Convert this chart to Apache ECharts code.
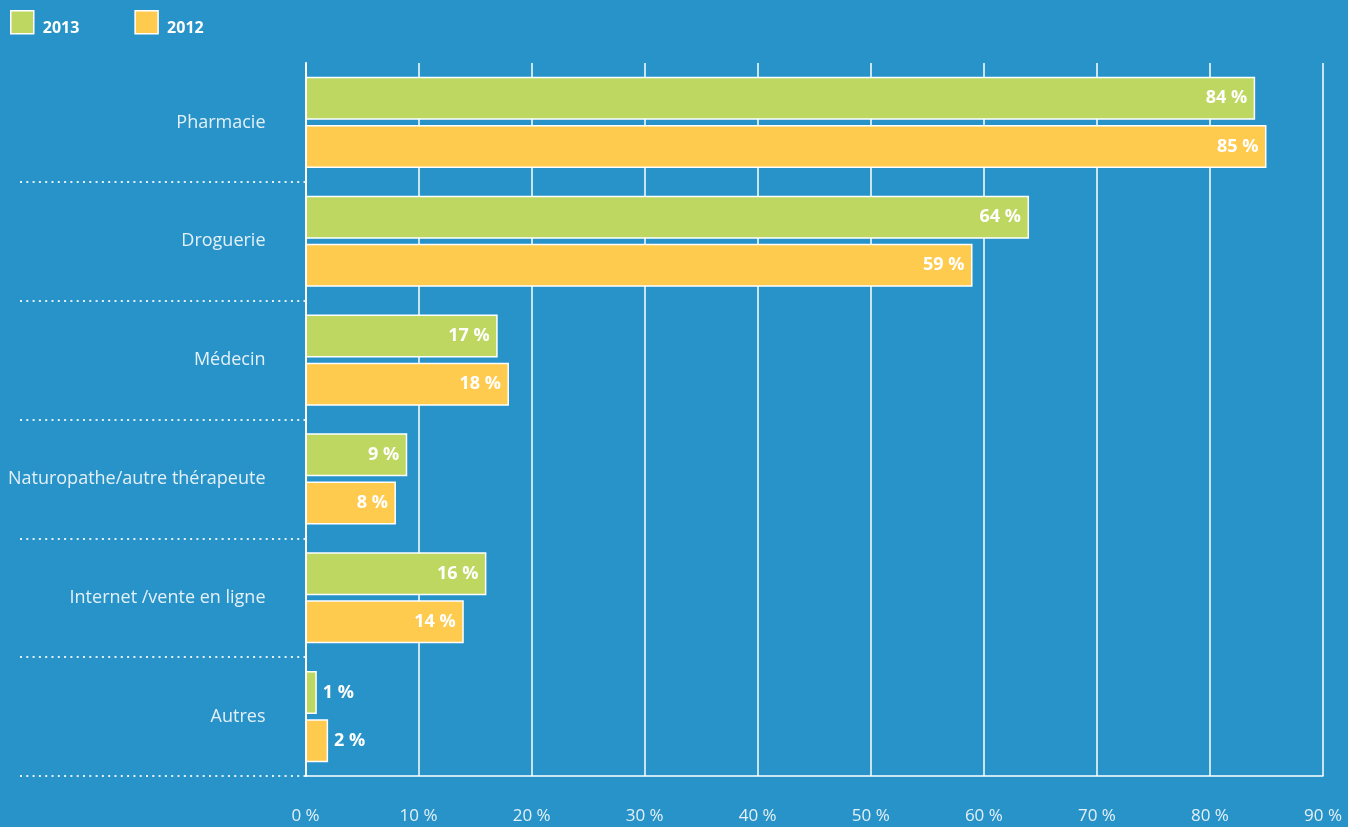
<!DOCTYPE html>
<html>
<head>
<meta charset="utf-8">
<script src="https://cdn.jsdelivr.net/npm/echarts@6/dist/echarts.min.js"></script>
<style>
html,body{margin:0;padding:0;background:#2793c8;}
#chart{width:1348px;height:827px;}
</style>
</head>
<body>
<div id="chart"></div>
<script>
const categories = ['Pharmacie', 'Droguerie', 'Médecin', 'Naturopathe/autre thérapeute', 'Internet /vente en ligne', 'Autres'];
const values2013 = [84, 64, 17, 9, 16, 1];
const values2012 = [85, 59, 18, 8, 14, 2];
const seriesNames = ['2013', '2012'];
const tickValues = [0, 10, 20, 30, 40, 50, 60, 70, 80, 90];

function toData(arr) {
  return arr.map(v => ({
    value: v,
    label: v < 5 ? { position: 'right', distance: 6 } : { position: 'insideRight', distance: 8 }
  }));
}

const chart = echarts.init(document.getElementById('chart'));
const labelStyle = {
  show: true,
  formatter: '{c} %',
  color: '#ffffff',
  fontFamily: 'Open Sans',
  fontWeight: 'bold',
  fontSize: 18
};
chart.setOption({
  backgroundColor: '#2793c8',
  animation: false,
  legend: {
    left: 10,
    top: 10,
    padding: 0,
    icon: 'rect',
    itemWidth: 23,
    itemHeight: 23,
    itemGap: 55,
    itemStyle: { borderColor: '#ffffff', borderWidth: 1.5 },
    formatter: '{t|{name}}',
    textStyle: {
      color: '#ffffff',
      rich: {
        t: { color: '#ffffff', fontFamily: 'Open Sans', fontWeight: 'bold', fontSize: 16, padding: [12, 0, 0, 4] }
      }
    },
    data: seriesNames
  },
  grid: { left: 305.5, right: 25, top: 63, bottom: 51, containLabel: false },
  xAxis: {
    type: 'value',
    min: 0,
    max: 90,
    interval: 10,
    axisLine: { show: true, lineStyle: { color: '#ffffff', width: 1.5 } },
    axisTick: { show: false },
    splitLine: { show: true, lineStyle: { color: '#ffffff', width: 1.5 } },
    axisLabel: {
      color: '#e4f0f8',
      fontFamily: 'Open Sans',
      fontSize: 17,
      margin: 32,
      formatter: v => tickValues.includes(v) ? v + ' %' : ''
    }
  },
  yAxis: {
    type: 'category',
    inverse: true,
    data: categories,
    axisLine: { show: true, lineStyle: { color: '#ffffff', width: 2 } },
    axisTick: {
      show: true,
      length: 287,
      interval: (idx) => idx !== 0,
      lineStyle: { color: '#e4f0f8', width: 2, type: [2, 4.3] }
    },
    axisLabel: {
      color: '#e4f0f8',
      fontFamily: 'Open Sans',
      fontSize: 18,
      margin: 40
    }
  },
  series: [
    {
      name: seriesNames[0],
      type: 'bar',
      data: toData(values2013),
      barWidth: 43,
      barGap: '12%',
      itemStyle: { color: '#bed760', borderColor: '#ffffff', borderWidth: 1.5 },
      label: labelStyle
    },
    {
      name: seriesNames[1],
      type: 'bar',
      data: toData(values2012),
      barWidth: 43,
      barGap: '12%',
      itemStyle: { color: '#ffcb4e', borderColor: '#ffffff', borderWidth: 1.5 },
      label: labelStyle
    }
  ]
});
</script>
</body>
</html>
